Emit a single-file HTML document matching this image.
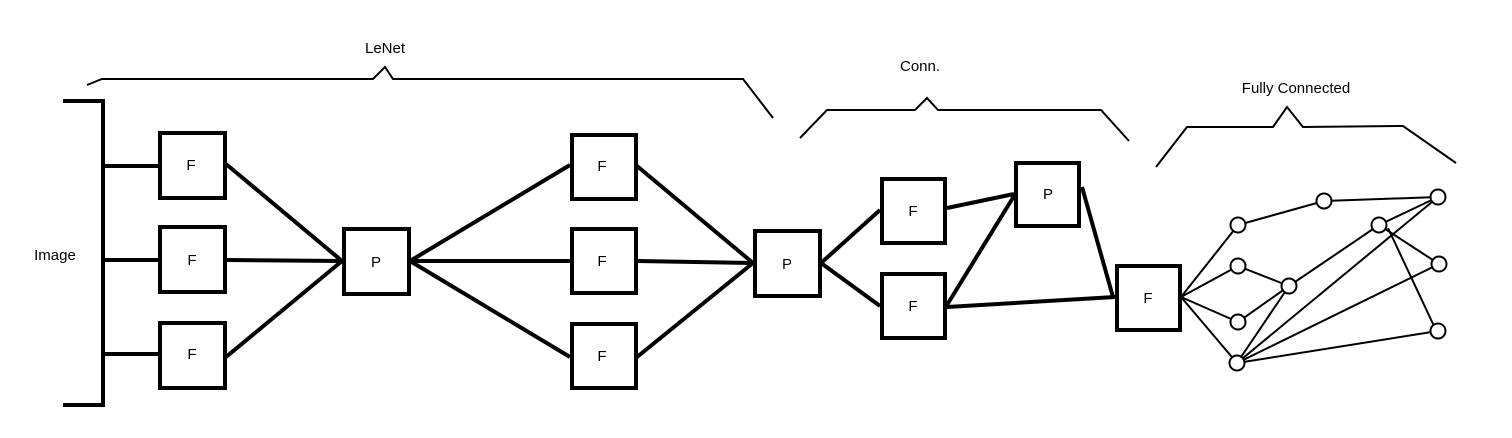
<!DOCTYPE html>
<html><head><style>
html,body{margin:0;padding:0;background:#fff;}
svg{display:block;}
text{font-family:"Liberation Sans","DejaVu Sans",sans-serif;font-size:15px;fill:#000;}
</style></head><body>
<svg width="1512" height="438" viewBox="0 0 1512 438" xmlns="http://www.w3.org/2000/svg">
<g fill="none" stroke="#000" stroke-linejoin="miter">
<polyline stroke-width="2" points="87,85 102,79 373,79 385,67 393,79 743,79 773,118"/>
<polyline stroke-width="2" points="800,138 827,110 915,110 927,98 938,110 1101,110 1129,141"/>
<polyline stroke-width="2" points="1156,167 1187,127 1273,127 1287,107 1303,127 1403,126 1456,163"/>
<polyline stroke-width="4" points="63,101 103,101 103,405 63,405"/>
<line stroke-width="4" x1="103" y1="166" x2="158" y2="166"/>
<line stroke-width="4" x1="103" y1="260" x2="158" y2="260"/>
<line stroke-width="4" x1="103" y1="354" x2="158" y2="354"/>
<g stroke-width="4">
<line x1="226" y1="164" x2="342" y2="261"/>
<line x1="226" y1="260" x2="342" y2="261"/>
<line x1="226" y1="357" x2="342" y2="261"/>
<line x1="410" y1="261" x2="570" y2="165"/>
<line x1="410" y1="261" x2="570" y2="261"/>
<line x1="410" y1="261" x2="570" y2="357"/>
<line x1="637" y1="166" x2="753" y2="263"/>
<line x1="637" y1="261" x2="753" y2="263"/>
<line x1="637" y1="357" x2="753" y2="263"/>
<line x1="821" y1="263" x2="880" y2="210"/>
<line x1="821" y1="263" x2="880" y2="306"/>
<line x1="947" y1="208" x2="1014" y2="194"/>
<line x1="947" y1="305" x2="1014" y2="196"/>
<line x1="947" y1="307" x2="1115" y2="297"/>
<line x1="1082" y1="187" x2="1113" y2="297"/>
</g>
<g stroke-width="4" fill="#fff">
<rect x="160" y="133" width="65" height="65"/>
<rect x="160" y="227" width="65" height="65"/>
<rect x="160" y="323" width="65" height="65"/>
<rect x="344" y="229" width="65" height="65"/>
<rect x="572" y="135" width="64" height="64"/>
<rect x="572" y="229" width="64" height="64"/>
<rect x="572" y="324" width="64" height="64"/>
<rect x="755" y="231" width="65" height="65"/>
<rect x="882" y="179" width="63" height="64"/>
<rect x="882" y="274" width="63" height="64"/>
<rect x="1016" y="163" width="63" height="63"/>
<rect x="1117" y="266" width="63" height="64"/>
</g>
<g stroke-width="2">
<line x1="1181" y1="297" x2="1238" y2="225"/>
<line x1="1181" y1="297" x2="1238" y2="266"/>
<line x1="1181" y1="297" x2="1238" y2="322"/>
<line x1="1181" y1="297" x2="1237" y2="363"/>
<line x1="1238" y1="225" x2="1324" y2="201"/>
<line x1="1324" y1="201" x2="1438" y2="197"/>
<line x1="1238" y1="266" x2="1289" y2="286"/>
<line x1="1238" y1="322" x2="1289" y2="286"/>
<line x1="1237" y1="363" x2="1289" y2="286"/>
<line x1="1237" y1="363" x2="1438" y2="197"/>
<line x1="1237" y1="363" x2="1439" y2="264"/>
<line x1="1237" y1="363" x2="1438" y2="331"/>
<line x1="1289" y1="286" x2="1379" y2="225"/>
<line x1="1379" y1="225" x2="1438" y2="197"/>
<line x1="1379" y1="225" x2="1439" y2="264"/>
<line x1="1388" y1="228" x2="1434" y2="326"/>
</g>
<g stroke-width="2" fill="#fff">
<circle cx="1238" cy="225" r="7.5"/>
<circle cx="1238" cy="266" r="7.5"/>
<circle cx="1238" cy="322" r="7.5"/>
<circle cx="1237" cy="363" r="7.5"/>
<circle cx="1324" cy="201" r="7.5"/>
<circle cx="1289" cy="286" r="7.5"/>
<circle cx="1379" cy="225" r="7.5"/>
<circle cx="1438" cy="197" r="7.5"/>
<circle cx="1439" cy="264" r="7.5"/>
<circle cx="1438" cy="331" r="7.5"/>
</g>
</g>
<g text-anchor="middle">
<text x="385" y="53">LeNet</text>
<text x="920" y="71">Conn.</text>
<text x="1296" y="93">Fully Connected</text>
<text x="55" y="260">Image</text>
<text x="191" y="170">F</text>
<text x="192" y="265">F</text>
<text x="192" y="359">F</text>
<text x="376" y="267">P</text>
<text x="602" y="171">F</text>
<text x="602" y="266">F</text>
<text x="602" y="361">F</text>
<text x="787" y="269">P</text>
<text x="913" y="216">F</text>
<text x="913" y="311">F</text>
<text x="1048" y="199">P</text>
<text x="1148" y="303">F</text>
</g>
</svg>
</body></html>
